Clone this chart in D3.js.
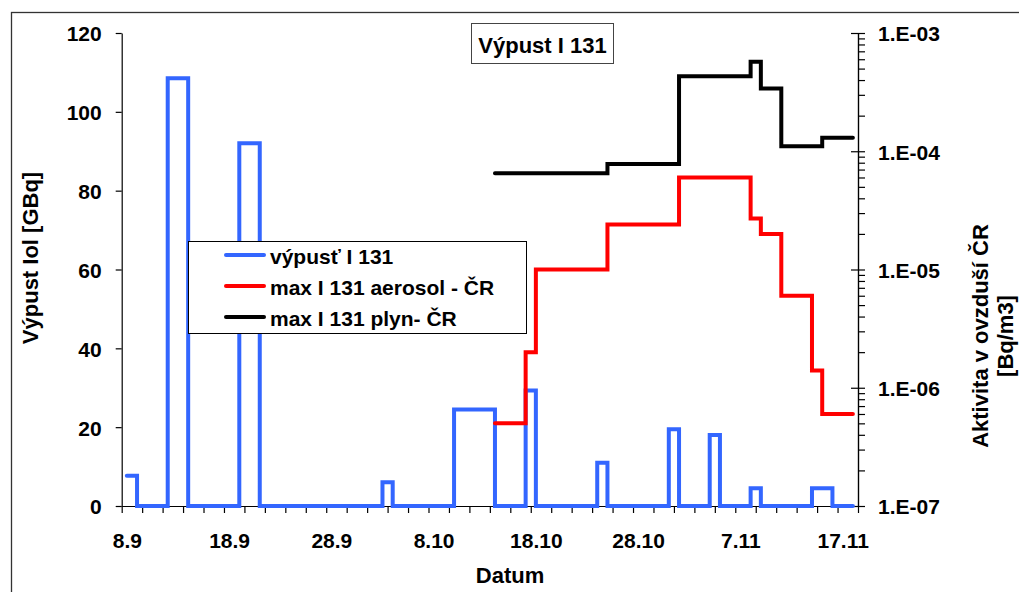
<!DOCTYPE html>
<html><head><meta charset="utf-8">
<script src="https://cdn.jsdelivr.net/npm/d3@7"></script>
<style>
body{margin:0;background:#fff;}
svg{display:block;font-family:"Liberation Sans",Arial,sans-serif;font-weight:bold;}
</style></head><body>
<svg id="c" width="1019" height="592"></svg>
<script>
// ---- data ----
const startDate = "8.9";
const endDate = "19.11";
const xLabels = ["8.9","18.9","28.9","8.10","18.10","28.10","7.11","17.11"];
const leftTicks = [0,20,40,60,80,100,120];
const rightTicks = [1e-7,1e-6,1e-5,1e-4,1e-3];
const rightTickLabels = ["1.E-07","1.E-06","1.E-05","1.E-04","1.E-03"];

// daily release, series runs from releaseFirst to releaseLast, zero on days not listed
const releaseFirst = "9.9", releaseLast = "18.11";
const releaseDates = ["9.9","13.9","14.9","20.9","21.9","4.10","11.10","12.10","13.10","14.10","18.10","25.10","1.11","5.11","9.11","15.11","16.11"];
const releaseGBq   = [7.7,108.5,108.5,92,92,6,24.5,24.5,24.5,24.5,29.3,11,19.5,18,4.5,4.5,4.5];

// stepped series: value i holds from edge i to edge i+1
const aerosolEdges = ["14.10","17.10","18.10","25.10","1.11","8.11","9.11","11.11","14.11","15.11","18.11"];
const aerosolBq    = [5.0e-7,2.0e-6,1.0e-5,2.4e-5,6.0e-5,2.7e-5,2.0e-5,6.0e-6,1.4e-6,6.0e-7];
const gasEdges = ["14.10","25.10","1.11","8.11","9.11","11.11","15.11","18.11"];
const gasBq    = [6.5e-5,7.8e-5,4.3e-4,5.7e-4,3.4e-4,1.1e-4,1.3e-4];

const seriesNames = ["výpusť I 131","max I 131 aerosol - ČR","max I 131 plyn- ČR"];
const seriesColors = ["#3366FF","#FF0000","#000000"];

// ---- helpers ----
function dayIndex(s){
  const [d,m] = s.split(".").map(Number);
  const [d0,m0] = startDate.split(".").map(Number);
  return Math.round((Date.UTC(2011,m-1,d)-Date.UTC(2011,m0-1,d0))/864e5);
}

const svg = d3.select("#c");
svg.append("rect").attr("width",1019).attr("height",592).attr("fill","#fff");
// outer chart frame
svg.append("rect").attr("x",11.5).attr("y",12.5).attr("width",1100).attr("height",700)
   .attr("fill","none").attr("stroke","#333").attr("stroke-width",1.3);

const x = d3.scaleLinear().domain([0, dayIndex(endDate)]).range([121.7, 858]);
const yL = d3.scaleLinear().domain([0,120]).range([506,33]);
const yR = d3.scaleLog().domain([1e-7,1e-3]).range([506,33]);

const FS = 21;

// left axis
const gL = svg.append("g").attr("transform","translate(121.7,0)");
gL.call(d3.axisLeft(yL).tickValues(d3.range(0,121,4)).tickSize(6).tickSizeOuter(0).tickFormat(""));
gL.call(d3.axisLeft(yL).tickValues(leftTicks).tickSize(6).tickSizeOuter(0).tickPadding(14).tickFormat(d3.format("d")));
gL.selectAll("text").attr("font-size",FS).attr("font-weight","bold").attr("font-family","Liberation Sans, Arial, sans-serif").attr("fill","#000").attr("dy","0.38em");
gL.selectAll("line,path").attr("stroke","#000").attr("stroke-width",1.2);

// right axis
const minorR = [];
for (let e=-7;e<-3;e++) for (let k=2;k<=9;k++) minorR.push(k*Math.pow(10,e));
const gR = svg.append("g").attr("transform","translate(858,0)");
gR.call(d3.axisRight(yR).tickValues(minorR).tickSize(7).tickSizeOuter(0).tickFormat(""));
const gR2 = svg.append("g").attr("transform","translate(858,0)");
gR2.call(d3.axisRight(yR).tickValues(rightTicks).tickSize(7).tickSizeOuter(0).tickPadding(13)
   .tickFormat((d,i)=>rightTickLabels[i]));
gR2.selectAll(".tick line").attr("x1",-7);
gR2.selectAll("text").attr("font-size",FS).attr("font-weight","bold").attr("font-family","Liberation Sans, Arial, sans-serif").attr("fill","#000").attr("dy","0.38em");
svg.selectAll("g line, g path").attr("stroke","#000").attr("stroke-width",1.2);

// bottom axis
const gB = svg.append("g").attr("transform","translate(0,506)");
gB.call(d3.axisBottom(x).tickValues(d3.range(0, dayIndex(endDate)+1, 2)).tickSize(7).tickSizeOuter(0).tickFormat(""));
gB.selectAll("line,path").attr("stroke","#000").attr("stroke-width",1.2);
const gBL = svg.append("g").attr("transform","translate(0,506)");
gBL.call(d3.axisBottom(x).tickValues(xLabels.map(s=>dayIndex(s)+0.5)).tickSize(0).tickPadding(0)
   .tickFormat((d,i)=>xLabels[i]));
gBL.select(".domain").remove();
gBL.selectAll("text").attr("font-size",FS).attr("font-weight","bold").attr("font-family","Liberation Sans, Arial, sans-serif").attr("fill","#000").attr("y",42).attr("dy",0);

// ---- series ----
const relMap = new Map(releaseDates.map((d,i)=>[dayIndex(d), releaseGBq[i]]));
const relPts = [];
for (let t=dayIndex(releaseFirst); t<=dayIndex(releaseLast); t++){
  const v = relMap.has(t) ? relMap.get(t) : 0;
  relPts.push([t-0.5, v],[t+0.5, v]);
}
function stepPts(edges, vals){
  const p=[];
  vals.forEach((v,i)=>{ p.push([dayIndex(edges[i])+0.5, v],[dayIndex(edges[i+1])+0.5, v]); });
  return p;
}
const lineL = d3.line().x(d=>x(d[0])).y(d=>yL(d[1]));
const lineR = d3.line().x(d=>x(d[0])).y(d=>yR(d[1]));

svg.append("path").attr("d",lineL(relPts)).attr("fill","none").attr("stroke",seriesColors[0])
   .attr("stroke-width",4).attr("stroke-linejoin","miter").attr("stroke-linecap","round");
svg.append("path").attr("d",lineR(stepPts(aerosolEdges,aerosolBq))).attr("fill","none").attr("stroke",seriesColors[1])
   .attr("stroke-width",4).attr("stroke-linejoin","miter").attr("stroke-linecap","round");
svg.append("path").attr("d",lineR(stepPts(gasEdges,gasBq))).attr("fill","none").attr("stroke",seriesColors[2])
   .attr("stroke-width",4).attr("stroke-linejoin","miter").attr("stroke-linecap","round");

// ---- titles ----
svg.append("rect").attr("x",471.5).attr("y",23.5).attr("width",142).attr("height",40)
   .attr("fill","#fff").attr("stroke","#444").attr("stroke-width",1);
svg.append("text").attr("x",542.5).attr("y",52.5).attr("text-anchor","middle").attr("font-size",22).text("Výpust I 131");

svg.append("text").attr("transform","translate(37.5,258) rotate(-90)").attr("text-anchor","middle")
   .attr("font-size",22).text("Výpust Iol [GBq]");
svg.append("text").attr("transform","translate(987.5,336) rotate(-90)").attr("text-anchor","middle")
   .attr("font-size",22).text("Aktivita v ovzduší ČR");
svg.append("text").attr("transform","translate(1012.5,336) rotate(-90)").attr("text-anchor","middle")
   .attr("font-size",22).text("[Bq/m3]");
svg.append("text").attr("x",510).attr("y",583).attr("text-anchor","middle").attr("font-size",22).text("Datum");

// ---- legend ----
const lg = svg.append("g");
lg.append("rect").attr("x",188.5).attr("y",241.5).attr("width",338).attr("height",92)
  .attr("fill","#fff").attr("stroke","#000").attr("stroke-width",1);
seriesNames.forEach((n,i)=>{
  const yy = 255 + i*31;
  lg.append("line").attr("x1",226).attr("x2",264).attr("y1",yy).attr("y2",yy)
    .attr("stroke",seriesColors[i]).attr("stroke-width",4).attr("stroke-linecap","round");
  lg.append("text").attr("x",270).attr("y",yy+9).attr("font-size",FS).text(n);
});
</script>
</body></html>
